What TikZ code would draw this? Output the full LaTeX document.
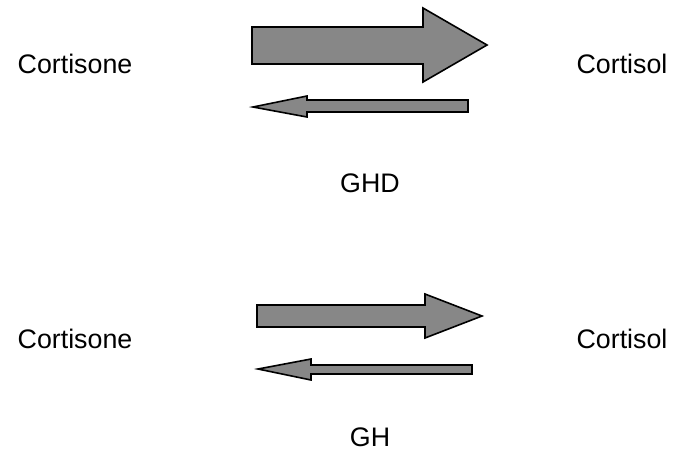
\documentclass[tikz,border=0pt]{standalone}
\usepackage{fontspec}
\setmainfont{Liberation Sans}
\begin{document}
\begin{tikzpicture}[x=1pt,y=-1pt,
  fatarrow/.style={draw=black,line width=1.6pt,fill=black!47,line join=miter},
  lbl/.style={font=\fontsize{26.8}{32}\selectfont,anchor=base,inner sep=0pt}]
\useasboundingbox (0,0) rectangle (682,451);
% top panel
\node[lbl] (cortisone1) at (75,73) {Cortisone};
\node[lbl] (cortisol1) at (622,73) {Cortisol};
\node[lbl] (ghd) at (370,192) {GHD};
\path[fatarrow] (252,27) -- (423,27) -- (423,8) -- (487,45) -- (423,82) -- (423,64) -- (252,64) -- cycle;
\path[fatarrow] (468,100) -- (307,100) -- (307,96) -- (253,107) -- (307,117) -- (307,112) -- (468,112) -- cycle;
% bottom panel
\node[lbl] (cortisone2) at (75,348) {Cortisone};
\node[lbl] (cortisol2) at (622,348) {Cortisol};
\node[lbl] (gh) at (370,446) {GH};
\path[fatarrow] (257,305) -- (425,305) -- (425,294) -- (482,316) -- (425,338) -- (425,327) -- (257,327) -- cycle;
\path[fatarrow] (472,365) -- (311,365) -- (311,359) -- (258,369) -- (311,380) -- (311,374) -- (472,374) -- cycle;
\end{tikzpicture}
\end{document}
